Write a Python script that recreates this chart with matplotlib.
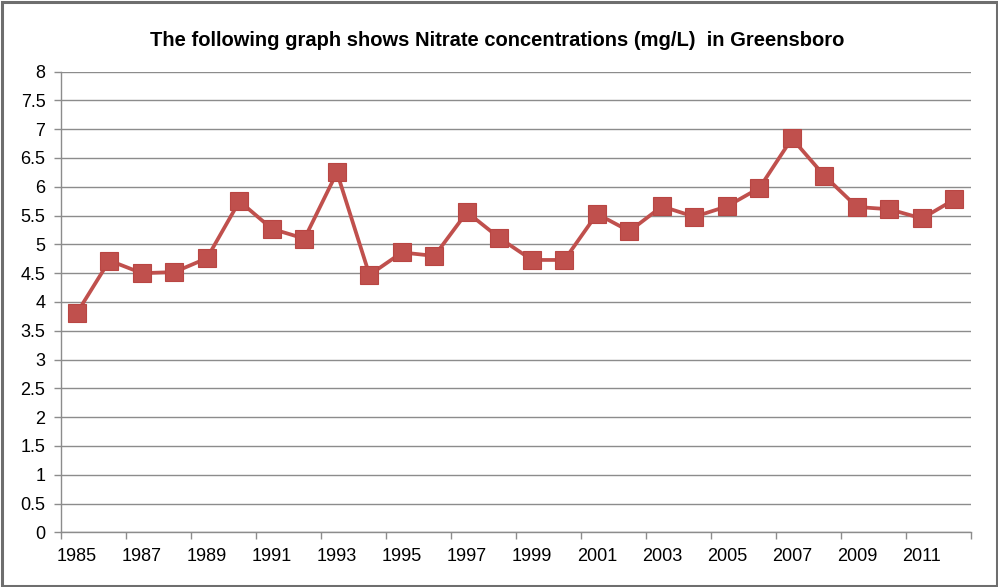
import matplotlib.pyplot as plt
from matplotlib.patches import Rectangle
from matplotlib.ticker import FixedLocator, NullFormatter

years = list(range(1985, 2013))
nitrate = [3.81, 4.72, 4.50, 4.52, 4.76, 5.75, 5.27, 5.10, 6.25, 4.47,
           4.86, 4.80, 5.56, 5.11, 4.73, 4.73, 5.53, 5.23, 5.66, 5.48,
           5.66, 5.98, 6.84, 6.19, 5.65, 5.61, 5.45, 5.78]
title = "The following graph shows Nitrate concentrations (mg/L)  in Greensboro"

plt.rcParams["font.family"] = ["Liberation Sans", "DejaVu Sans"]

W, H = 998, 587
fig = plt.figure(figsize=(W / 100, H / 100), dpi=100)
ax = fig.add_axes([60.7 / W, 1 - 532.4 / H, 910 / W, 460.8 / H])

x = list(range(len(years)))
ax.plot(x, nitrate, color="#C0504D", lw=2.7, marker="s", markersize=12.3,
        markerfacecolor="#C0504D", markeredgecolor="#B94643", markeredgewidth=0.8,
        zorder=3)

ax.set_xlim(-0.5, len(years) - 0.5)
ax.set_ylim(0, 8)

# y axis
yt = [i * 0.5 for i in range(17)]
ax.set_yticks(yt)
ax.set_yticklabels([f"{v:g}" for v in yt])
ax.grid(axis="y", color="#8C8C8C", lw=1.0)
ax.set_axisbelow(True)

# x axis: tick marks between categories, labels on every second year
ax.xaxis.set_major_locator(FixedLocator([i - 0.5 for i in range(0, len(years) + 1, 2)]))
ax.xaxis.set_major_formatter(NullFormatter())
ax.xaxis.set_minor_locator(FixedLocator(x[::2]))
ax.set_xticklabels([str(y) for y in years[::2]], minor=True)

ax.tick_params(axis="x", which="major", direction="out", length=5, color="#8C8C8C", width=1)
ax.tick_params(axis="x", which="minor", length=0, pad=11, labelsize=13)
ax.tick_params(axis="y", direction="out", length=5, color="#8C8C8C", width=1,
               labelsize=13, pad=6)

for s in ["top", "right"]:
    ax.spines[s].set_visible(False)
for s in ["left", "bottom"]:
    ax.spines[s].set_color("#8C8C8C")
    ax.spines[s].set_linewidth(1.0)

fig.text(497 / W, 1 - 40 / H, title, ha="center", va="center",
         fontsize=14.5, fontweight="bold")

fig.patches.append(Rectangle((1.5 / W, 1.5 / H), 1 - 3 / W, 1 - 3 / H,
                             transform=fig.transFigure, fill=False,
                             edgecolor="#6E6E6E", lw=2.2))

fig.savefig("out.png", dpi=100)
